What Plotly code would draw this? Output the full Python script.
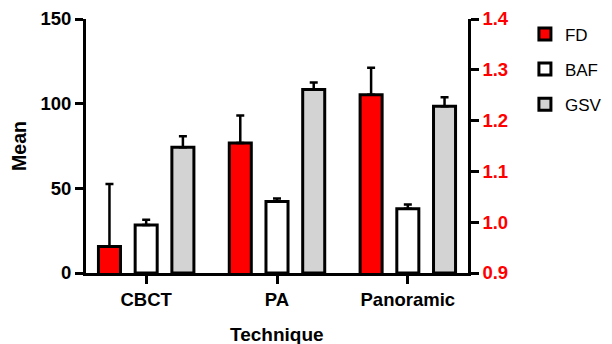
import plotly.graph_objects as go

categories = ["CBCT", "PA", "Panoramic"]
fd_mean = [0.952, 1.156, 1.251]
fd_err = [0.123, 0.054, 0.053]
baf_mean = [28.4, 42.2, 37.9]
baf_err = [3.0, 1.8, 2.5]
gsv_mean = [74.2, 108.4, 98.5]
gsv_err = [6.5, 4.1, 5.3]

left_ticks = [0, 50, 100, 150]
right_ticks = [0.9, 1.0, 1.1, 1.2, 1.3, 1.4]
right_labels = ["0.9", "1.0", "1.1", "1.2", "1.3", "1.4"]

FONT = "Liberation Sans, Arial, sans-serif"

def err(vals):
    return dict(type="data", array=vals, arrayminus=[0] * len(vals), symmetric=False,
                color="black", thickness=2.5, width=4)

fig = go.Figure()
fig.add_trace(go.Bar(name="FD", x=categories, y=fd_mean, yaxis="y2", offsetgroup="1",
                     marker=dict(color="#ff0000", line=dict(color="black", width=3)),
                     error_y=err(fd_err), legendgroup="a"))
fig.add_trace(go.Bar(name="BAF", x=categories, y=baf_mean, offsetgroup="2",
                     marker=dict(color="white", line=dict(color="black", width=3)),
                     error_y=err(baf_err), legendgroup="b"))
fig.add_trace(go.Bar(name="GSV", x=categories, y=gsv_mean, offsetgroup="3",
                     marker=dict(color="#d3d3d3", line=dict(color="black", width=3)),
                     error_y=err(gsv_err), legendgroup="c"))

fig.update_layout(
    width=612, height=344,
    margin=dict(l=78, r=152, t=11, b=79, autoexpand=False),
    paper_bgcolor="white", plot_bgcolor="white",
    barmode="group", bargap=0.158, bargroupgap=0.4,
    font=dict(family=FONT, color="black"),
    xaxis=dict(range=[-0.46, 2.46], showline=True, linecolor="black", linewidth=3,
               ticks="outside", ticklen=8, tickwidth=2.5, tickcolor="black",
               tickfont=dict(size=18.5, family=FONT, weight="bold"),
               showgrid=False, zeroline=False, automargin=False),
    yaxis=dict(range=[0, 150], tickvals=left_ticks, showline=True, linecolor="black",
               linewidth=3, ticks="outside", ticklen=8, tickwidth=2.5, tickcolor="black",
               tickfont=dict(size=18.5, family=FONT, weight="bold"),
               title=dict(text="<b>Mean</b>", font=dict(size=19.5), standoff=9),
               showgrid=False, zeroline=False, automargin=False),
    yaxis2=dict(range=[0.9, 1.4], tickvals=right_ticks, ticktext=right_labels,
                overlaying="y", side="right", showline=True, linecolor="black",
                linewidth=2.5, ticks="outside", ticklen=8, tickwidth=2.5, tickcolor="black",
                tickfont=dict(size=18.5, family=FONT, weight="bold", color="#ff0000"),
                showgrid=False, zeroline=False, automargin=False),
    legend=dict(x=1.149, y=1.01, xanchor="left", yanchor="top",
                font=dict(size=17, family=FONT), tracegroupgap=10,
                bgcolor="rgba(0,0,0,0)"),
    annotations=[dict(text="<b>Technique</b>", xref="paper", yref="paper",
                      x=0.5, y=-0.193, xanchor="center", yanchor="top",
                      showarrow=False, font=dict(size=19, family=FONT))],
)

fig.write_html("out.html")
